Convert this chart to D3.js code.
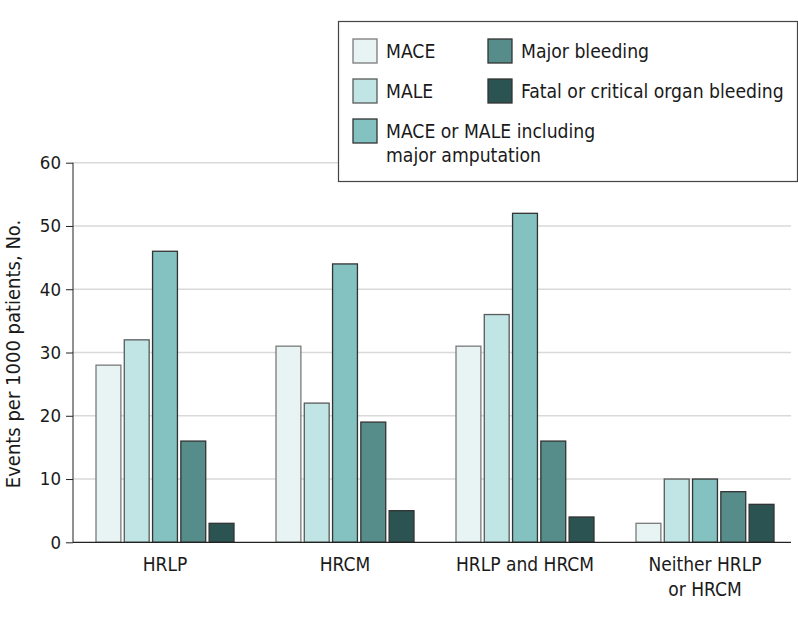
<!DOCTYPE html>
<html><head><meta charset="utf-8">
<script src="https://cdn.jsdelivr.net/npm/d3@7"></script>
<style>body{margin:0;background:#fff}svg{display:block}text{font-family:"DejaVu Sans Condensed","Liberation Sans Narrow",Roboto,sans-serif;fill:#1a1a1a}</style>
</head><body><svg id="c" width="798" height="619"></svg>
<script>
const categories = [["HRLP"], ["HRCM"], ["HRLP and HRCM"], ["Neither HRLP", "or HRCM"]];
const seriesNames = ["MACE", "MALE", "MACE or MALE including major amputation", "Major bleeding", "Fatal or critical organ bleeding"];
const MACE = [28, 31, 31, 3];
const MALE = [32, 22, 36, 10];
const MACEorMALE = [46, 44, 52, 10];
const majorBleeding = [16, 19, 16, 8];
const fatalBleeding = [3, 5, 4, 6];
const yTicks = [0, 10, 20, 30, 40, 50, 60];
const colors = ["#e8f3f4", "#c1e5e5", "#84c2c2", "#568c8a", "#2a5351"];
const strokes = ["#7a7a7a", "#5a5a5a", "#333", "#333", "#333"];
const series = [MACE, MALE, MACEorMALE, majorBleeding, fatalBleeding];
const FF = '"DejaVu Sans Condensed","Liberation Sans Narrow",Roboto,sans-serif';

const svg = d3.select("#c");
const y = d3.scaleLinear().domain([0, 60]).range([542.3, 162.7]);
const x0 = d3.scaleBand().domain(d3.range(categories.length)).range([75, 795]).paddingInner(0).paddingOuter(0);
const x1 = d3.scaleBand().domain(d3.range(series.length)).range([21, 159]).paddingInner(0.12).paddingOuter(0);
const axL = 73, axR = 791;

// gridlines
svg.append("g").selectAll("line").data(yTicks.filter(d => d > 0)).join("line")
  .attr("x1", axL).attr("x2", axR).attr("y1", d => y(d)).attr("y2", d => y(d))
  .attr("stroke", "#d9d9d9").attr("stroke-width", 1.5);

// y axis
const yAxis = d3.axisLeft(y).tickValues(yTicks).tickSize(7).tickPadding(5);
const gy = svg.append("g").attr("transform", `translate(${axL},0)`).call(yAxis);
gy.select(".domain").attr("stroke", "#222").attr("d", `M0,${y(60)}V${y(0)}`);
gy.selectAll(".tick line").attr("stroke", "#222");
gy.selectAll(".tick text").attr("font-size", 18.5).attr("fill", "#1a1a1a").style("font-family", FF);

// bars
const g = svg.append("g");
categories.forEach((c, ci) => {
  series.forEach((s, si) => {
    g.append("rect")
      .attr("x", x0(ci) + x1(si)).attr("width", x1.bandwidth())
      .attr("y", y(s[ci])).attr("height", y(0) - y(s[ci]))
      .attr("fill", colors[si]).attr("stroke", strokes[si]).attr("stroke-width", 1.3);
  });
});

// x axis line
svg.append("line").attr("x1", axL).attr("x2", axR).attr("y1", y(0)).attr("y2", y(0))
  .attr("stroke", "#222").attr("stroke-width", 1.2);

// x labels
categories.forEach((lines, ci) => {
  const cx = x0(ci) + x0.bandwidth() / 2;
  const t = svg.append("text").attr("x", cx).attr("y", 571).attr("text-anchor", "middle").attr("font-size", 19);
  lines.forEach((l, i) => t.append("tspan").attr("x", cx).attr("dy", i === 0 ? 0 : 25).text(l));
});

// y title
svg.append("text").attr("transform", `translate(20,${(215 + 493) / 2}) rotate(-90)`)
  .attr("text-anchor", "middle").attr("font-size", 20).text("Events per 1000 patients, No.");

// legend
const lg = svg.append("g");
lg.append("rect").attr("x", 338.5).attr("y", 21.5).attr("width", 459).attr("height", 160)
  .attr("fill", "#fff").attr("stroke", "#444").attr("stroke-width", 1.2);
const legPos = [[353, 39], [353, 79], [353, 119], [488, 39], [488, 79]];
seriesNames.forEach((n, i) => {
  const [lx, ly] = legPos[i];
  lg.append("rect").attr("x", lx).attr("y", ly).attr("width", 24).attr("height", 24)
    .attr("fill", colors[i]).attr("stroke", strokes[i]).attr("stroke-width", 1.3);
  const t = lg.append("text").attr("x", lx + 33).attr("y", ly + 19).attr("font-size", 19.2);
  if (i === 2) {
    t.append("tspan").attr("x", lx + 33).text("MACE or MALE including");
    t.append("tspan").attr("x", lx + 33).attr("dy", 24).text("major amputation");
  } else t.text(n);
});
</script></body></html>
